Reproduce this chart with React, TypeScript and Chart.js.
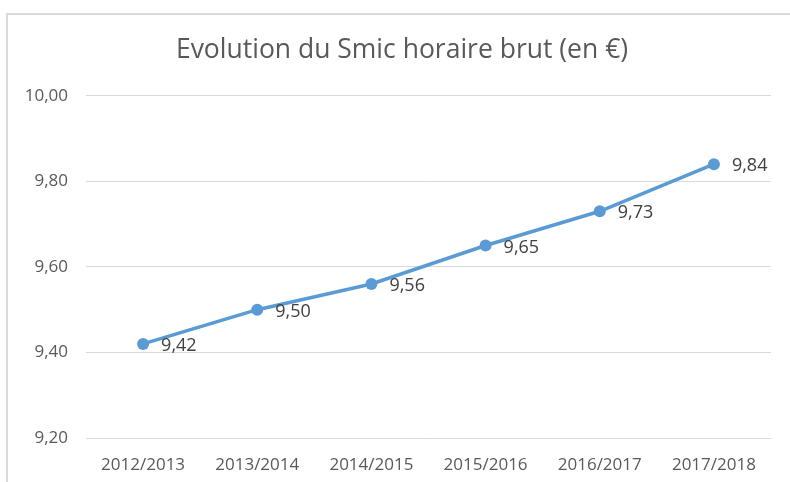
import React, { useEffect, useRef } from "react";
import { Chart, registerables } from "chart.js";

Chart.register(...registerables);

const TITLE = "Evolution du Smic horaire brut (en €)";
const CATEGORIES = ["2012/2013", "2013/2014", "2014/2015", "2015/2016", "2016/2017", "2017/2018"];
const SMIC_VALUES = [9.42, 9.5, 9.56, 9.65, 9.73, 9.84];
const Y_MIN = 9.2;
const Y_MAX = 10.0;
const Y_STEP = 0.2;

const FONT = "'Open Sans', 'Noto Sans', sans-serif";
const fmt = (v: number) => v.toFixed(2).replace(".", ",");

const dataLabelPlugin = {
  id: "pointLabels",
  afterLayout(chart: any) {
    // let the y tick labels use the space to the left of the axis box (no clipping)
    const y = chart.scales.y;
    if (y) y.left = 0;
  },
  afterDatasetsDraw(chart: any) {
    const ctx = chart.ctx;
    const meta = chart.getDatasetMeta(0);
    const data = chart.data.datasets[0].data as number[];
    ctx.save();
    ctx.font = `18px ${FONT}`;
    ctx.fillStyle = "#404040";
    ctx.textAlign = "left";
    ctx.textBaseline = "middle";
    meta.data.forEach((pt: any, i: number) => {
      ctx.fillText(fmt(data[i]), pt.x + 18, pt.y + 2);
    });
    ctx.restore();
  },
};

export default function App() {
  const canvasRef = useRef<HTMLCanvasElement | null>(null);

  useEffect(() => {
    if (!canvasRef.current) return;
    const chart = new Chart(canvasRef.current, {
      type: "line",
      data: {
        labels: CATEGORIES,
        datasets: [
          {
            label: "Smic horaire brut",
            data: SMIC_VALUES,
            borderColor: "#5B9BD5",
            backgroundColor: "#5B9BD5",
            borderWidth: 3.5,
            pointRadius: 6,
            pointHoverRadius: 6,
            pointBackgroundColor: "#5B9BD5",
            pointBorderColor: "#5B9BD5",
            pointBorderWidth: 0,
            tension: 0,
            fill: false,
          },
        ],
      },
      options: {
        animation: false,
        responsive: false,
        maintainAspectRatio: false,
        layout: { padding: { left: 33, right: 19, top: 0, bottom: 8 } },
        plugins: {
          legend: { display: false },
          tooltip: { enabled: false },
          title: {
            display: true,
            text: TITLE,
            color: "#595959",
            font: { family: FONT, size: 26.5, weight: "normal" },
            padding: { top: 35, bottom: 29 },
          },
        },
        scales: {
          x: {
            offset: true,
            grid: { display: false },
            border: { display: false },
            ticks: {
              color: "#595959",
              font: { family: FONT, size: 17 },
              padding: 9,
              maxRotation: 0,
            },
            afterFit: (scale: any) => {
              scale.height = 36;
            },
          },
          y: {
            min: Y_MIN,
            max: Y_MAX,
            grid: { color: "#d9d9d9", lineWidth: 1, drawTicks: false },
            border: { display: false },
            ticks: {
              stepSize: Y_STEP,
              color: "#595959",
              font: { family: FONT, size: 17 },
              padding: 18,
              callback: (v: any) => fmt(Number(v)),
            },
            afterFit: (scale: any) => {
              scale.width = 53;
            },
          },
        },
      },
      plugins: [dataLabelPlugin],
    });
    return () => chart.destroy();
  }, []);

  return (
    <div
      style={{
        position: "fixed",
        left: 0,
        top: 0,
        width: 790,
        height: 482,
        overflow: "hidden",
        background: "#ffffff",
      }}
    >
      <div
        style={{
          position: "absolute",
          left: 6,
          top: 13,
          width: 800,
          height: 490,
          borderLeft: "2px solid #d9d9d9",
          borderTop: "2px solid #d9d9d9",
        }}
      />
      <canvas
        ref={canvasRef}
        width={790}
        height={482}
        style={{ position: "absolute", left: 0, top: 0, width: 790, height: 482 }}
      />
    </div>
  );
}
